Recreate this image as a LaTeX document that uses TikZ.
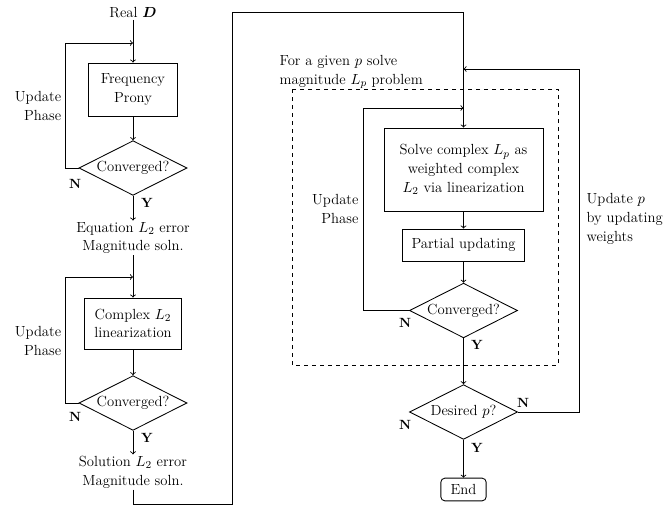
\documentclass[tikz,border=0pt]{standalone}
\usepackage{amsmath,bm}
\usetikzlibrary{shapes.geometric}
\tikzset{
	procbox/.style={draw, line width=0.65pt, rectangle, align=center, inner sep=2pt},
	decision/.style={draw, line width=0.65pt, diamond, aspect=2, inner sep=0pt, minimum width=81pt, minimum height=41pt},
	termbox/.style={draw, line width=0.65pt, rectangle, rounded corners=3pt, minimum width=34pt, minimum height=17pt, inner sep=1pt},
	flowarrow/.style={line width=0.65pt, ->},
	lbl/.style={align=center, inner sep=1pt},
	yn/.style={inner sep=0pt, font=\bfseries}
}

\begin{document}
\begin{tikzpicture}[x=0.75pt, y=-0.75pt, font=\fontsize{11}{14}\selectfont]
			%%%%% START %%%%%
			\useasboundingbox (0, 0) rectangle (666, 514);
			
			% left column
			\node[lbl] (real) at (133, 13) {Real $\bm{D}$};
			\node[procbox, minimum width=66.75pt, minimum height=39.75pt] (freq) at (133, 89.5) {Frequency\\Prony};
			\node[decision] (conv1) at (133, 168) {Converged?};
			\node[lbl] (eqerr) at (133, 238) {Equation $L_2$ error\\Magnitude soln.};
			\node[procbox, minimum width=72.75pt, minimum height=38.25pt] (cplx) at (133, 323.5) {Complex $L_2$\\linearization};
			\node[decision] (conv2) at (133, 403) {Converged?};
			\node[lbl] (solerr) at (133, 472) {Solution $L_2$ error\\Magnitude soln.};
			
			\node[lbl, align=right] (upd1) at (38, 106) {Update\\Phase};
			\node[lbl, align=right] (upd2) at (38, 341) {Update\\Phase};
			
			\coordinate (j1) at (133, 43);
			\coordinate (j2) at (133, 277);
			
			\draw[flowarrow] (real) -- (freq);
			\draw[flowarrow] (freq) -- (conv1);
			\draw[flowarrow] (conv1.west) -- ++(-13, 0) |- (j1);
			\draw[flowarrow] (conv1.south) -- (eqerr);
			\draw[flowarrow] (eqerr) -- (cplx);
			\draw[flowarrow] (cplx) -- (conv2);
			\draw[flowarrow] (conv2.west) -- ++(-13, 0) |- (j2);
			\draw[flowarrow] (conv2.south) -- (solerr);
			
			\node[yn] at (75, 184) {N};
			\node[yn] at (147, 203) {Y};
			\node[yn] at (75, 417) {N};
			\node[yn] at (147, 438) {Y};
			
			% right column
			\draw[line width=0.65pt, dashed] (292, 89) rectangle (558, 365);
			\node[lbl, align=left, anchor=west] (given) at (278, 72) {For a given $p$ solve\\magnitude $L_p$ problem};
			
			\node[procbox, minimum width=119.25pt, minimum height=62.25pt] (solve) at (463.5, 169.5) {Solve complex $L_p$ as\\weighted complex\\$L_2$ via linearization};
			\node[procbox, minimum width=91.5pt, minimum height=24pt] (partial) at (463.5, 245) {Partial updating};
			\node[decision] (conv3) at (463.5, 310.5) {Converged?};
			\node[decision] (desired) at (463.5, 412) {Desired $p$?};
			\node[termbox] (stop) at (463.5, 489.5) {End};
			
			\node[lbl, align=right, anchor=east] (upd3) at (360, 209) {Update\\Phase};
			\node[lbl, align=left, anchor=west] (updp) at (585, 219) {Update $p$\\by updating\\weights};
			
			\coordinate (j3) at (463.5, 108);
			\coordinate (j4) at (463.5, 69);
			
			\draw[flowarrow] (solerr.south) -- ++(0, 15) -| (232, 12) -| (solve.north);
			\draw[flowarrow] (solve) -- (partial);
			\draw[flowarrow] (partial) -- (conv3);
			\draw[flowarrow] (conv3.west) -- ++(-46, 0) |- (j3);
			\draw[flowarrow] (conv3.south) -- (desired);
			\draw[flowarrow] (desired.east) -- ++(61, 0) |- (j4);
			\draw[flowarrow] (desired.south) -- (stop);
			
			\node[yn] at (405, 323) {N};
			\node[yn] at (477, 345) {Y};
			\node[yn] at (523, 403) {N};
			\node[yn] at (405, 425) {N};
			\node[yn] at (477, 448) {Y};
			
			%%%%% END %%%%%
\end{tikzpicture}
\end{document}
